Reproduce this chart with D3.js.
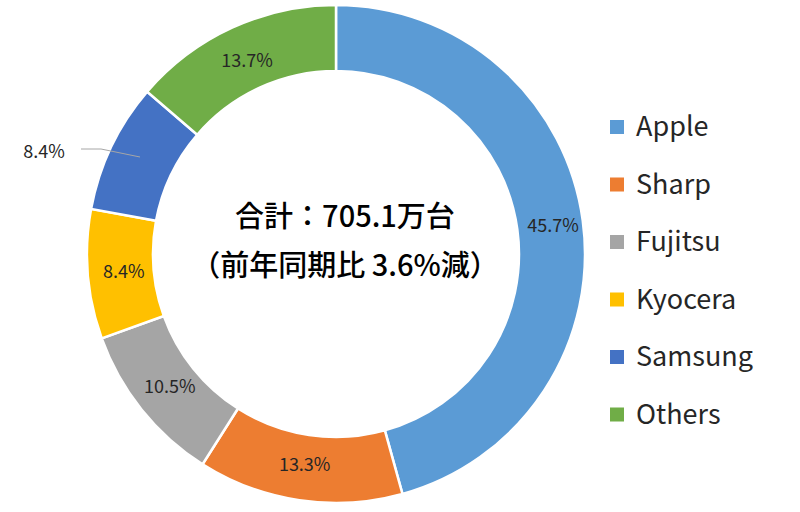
<!DOCTYPE html>
<html><head><meta charset="utf-8">
<script src="https://cdn.jsdelivr.net/npm/d3@7"></script>
<style>body{margin:0;background:#fff}</style>
</head><body>
<svg width="800" height="512"></svg>
<script>
var categories = ["Apple", "Sharp", "Fujitsu", "Kyocera", "Samsung", "Others"]
var shares = [45.7, 13.3, 10.5, 8.4, 8.4, 13.7]
var colors = ["#5B9BD5", "#ED7D31", "#A5A5A5", "#FFC000", "#4472C4", "#70AD47"]
var centerLines = ["合計：705.1万台", "（前年同期比 3.6%減）"]

var svg = d3.select("svg")
var cx = 336, cy = 254
var outerR = 249, innerR = 183
var font = "'Noto Sans CJK JP', 'Noto Sans', sans-serif"

var data = categories.map(function(c, i) { return {name: c, value: shares[i]} })
var pie = d3.pie().sort(null).value(function(d) { return d.value })
var arc = d3.arc().innerRadius(innerR).outerRadius(outerR)
var labelArc = d3.arc().innerRadius(innerR + 30).outerRadius(innerR + 30)
var color = d3.scaleOrdinal().domain(categories).range(colors)

var g = svg.append("g").attr("transform", "translate(" + cx + "," + cy + ")")
var arcs = pie(data)

g.selectAll("path").data(arcs).enter().append("path")
    .attr("d", arc)
    .attr("fill", function(d) { return color(d.data.name) })
    .attr("stroke", "#fff").attr("stroke-width", 2.5)

// labels; Samsung goes outside with a leader line
arcs.forEach(function(d, i) {
    var p = labelArc.centroid(d)
    if (d.data.name == "Apple") { p = [217, -28] }
    if (d.data.name == "Samsung") {
        var lx = -292, ly = -102
        g.append("path")
            .attr("d", "M" + (lx + 37) + "," + (ly - 3) + " L" + (-235) + "," + (ly - 3) + " L" + (-196) + "," + (ly + 5))
            .attr("fill", "none").attr("stroke", "#a6a6a6").attr("stroke-width", 1)
        g.append("text").attr("x", lx).attr("y", ly)
            .attr("text-anchor", "middle").attr("dy", "0.35em")
            .attr("font-family", font).attr("font-size", 18).attr("fill", "#262626")
            .text(d.data.value.toFixed(1) + "%")
        return
    }
    g.append("text").attr("x", p[0]).attr("y", p[1])
        .attr("text-anchor", "middle").attr("dy", "0.35em")
        .attr("font-family", font).attr("font-size", 18).attr("fill", "#262626")
        .text(d.data.value.toFixed(1) + "%")
})

svg.selectAll(".center").data(centerLines).enter().append("text")
    .attr("x", 345).attr("y", function(d, i) { return 217 + i * 49 })
    .attr("text-anchor", "middle").attr("dy", "0.35em")
    .attr("font-family", font).attr("font-size", 29).attr("font-weight", 500).attr("fill", "#000")
    .text(function(d) { return d })

var legend = svg.append("g").attr("transform", "translate(610,127)")
var item = legend.selectAll("g").data(categories).enter().append("g")
    .attr("transform", function(d, i) { return "translate(0," + (i * 57.5) + ")" })
item.append("rect").attr("x", 0).attr("y", -7).attr("width", 14).attr("height", 14)
    .attr("fill", function(d) { return color(d) })
item.append("text").attr("x", 26).attr("dy", "0.35em")
    .attr("font-family", font).attr("font-size", 27).attr("fill", "#262626")
    .text(function(d) { return d })
</script>
</body></html>
